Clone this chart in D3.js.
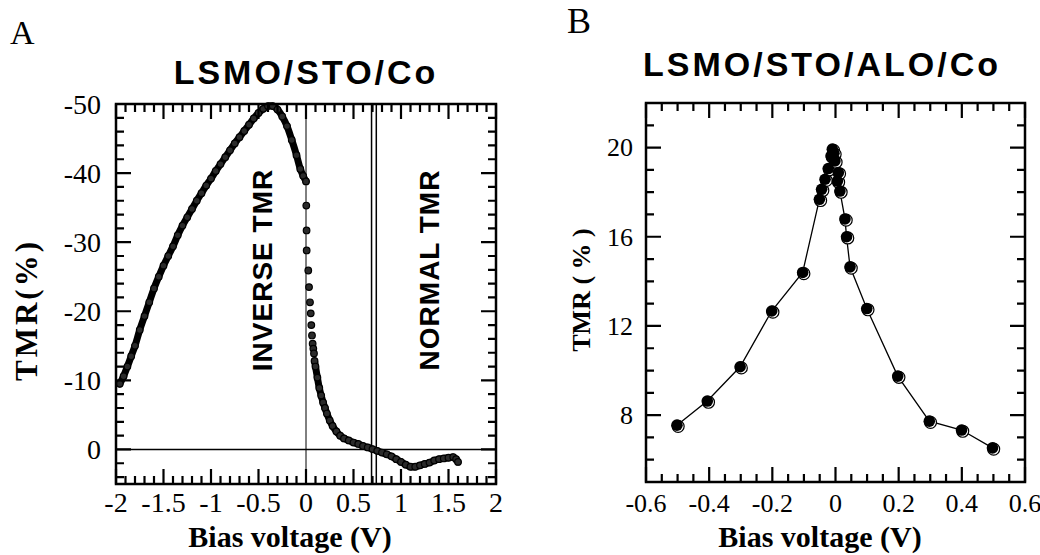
<!DOCTYPE html>
<html>
<head>
<meta charset="utf-8">
<script src="https://cdn.jsdelivr.net/npm/d3@7"></script>
<style>
  body { margin: 0; background: #fff; }
  svg { display: block; }
</style>
</head>
<body>
<svg id="chart" width="1040" height="555"></svg>
<script>
// ---- panel A : LSMO/STO/Co ----
// dense sweep from -2 V up to the peak and back to 0
const aLeftV = [-1.96, -1.92, -1.88, -1.84, -1.8, -1.75, -1.7, -1.65, -1.6, -1.55, -1.5, -1.45,
  -1.4, -1.35, -1.3, -1.25, -1.2, -1.15, -1.1, -1.05, -1.0, -0.95, -0.9, -0.85, -0.8, -0.75,
  -0.7, -0.65, -0.6, -0.55, -0.5, -0.45, -0.4, -0.35, -0.3, -0.25, -0.2, -0.15, -0.1, -0.06,
  -0.03, 0.0];
const aLeftTMR = [-9.5, -10.6, -12, -13.5, -15, -17.3, -19.3, -21.3, -23.3, -25, -26.6, -28,
  -29.4, -31, -32.4, -33.6, -34.8, -36, -37.1, -38.2, -39.2, -40.3, -41.3, -42.3, -43.3, -44.3,
  -45.2, -46.1, -47, -47.9, -48.7, -49.3, -49.7, -49.7, -49.2, -48.2, -46.8, -44.8, -42.6, -40.6,
  -39.6, -38.8];
// sparse points just above 0 V
const aDropV = [0.003, 0.006, 0.007, 0.024, 0.032, 0.042, 0.05, 0.056, 0.063, 0.07, 0.077, 0.084];
const aDropTMR = [-35.3, -31.7, -28.8, -25.9, -23.5, -21.3, -19.7, -18, -16.5, -15.3, -14.6, -13.9];
// dense tail
const aTailV = [0.09, 0.1, 0.12, 0.14, 0.16, 0.18, 0.2, 0.22, 0.25, 0.28, 0.32, 0.36, 0.4, 0.45,
  0.5, 0.55, 0.6, 0.65, 0.7, 0.75, 0.8, 0.85, 0.9, 0.95, 1.0, 1.05, 1.1, 1.15, 1.2, 1.25, 1.3,
  1.35, 1.4, 1.45, 1.5, 1.55, 1.58, 1.6];
const aTailTMR = [-12.8, -12, -10.4, -8.9, -7.8, -6.8, -6, -5.2, -4.2, -3.4, -2.6, -2.0, -1.6,
  -1.3, -1.0, -0.8, -0.5, -0.3, -0.05, 0.2, 0.45, 0.7, 1.0, 1.4, 1.8, 2.2, 2.5, 2.5, 2.3, 2.1,
  1.9, 1.6, 1.4, 1.3, 1.2, 1.1, 1.4, 1.8];
const aBoundaryV = [0.69, 0.74];
const aXTicks = [-2, -1.5, -1, -0.5, 0, 0.5, 1, 1.5, 2];
const aXTickLabels = ["-2", "-1.5", "-1", "-0.5", "0", "0.5", "1", "1.5", "2"];
const aYTicks = [-50, -40, -30, -20, -10, 0];
const aYTickLabels = ["-50", "-40", "-30", "-20", "-10", "0"];

// ---- panel B : LSMO/STO/ALO/Co ----
const bV = [-0.502, -0.406, -0.302, -0.202, -0.104, -0.051, -0.044, -0.033, -0.023, -0.014,
  -0.010, -0.005, -0.002, 0.006, 0.009, 0.014, 0.030, 0.035, 0.046, 0.099, 0.197, 0.297,
  0.399, 0.497];
const bTMR = [7.55, 8.63, 10.17, 12.67, 14.4, 17.68, 18.13, 18.58, 19.06, 19.63, 19.93, 19.75,
  19.4, 18.5, 18.88, 18.05, 16.8, 16.0, 14.65, 12.78, 9.75, 7.73, 7.33, 6.53];
const bXTicks = [-0.6, -0.4, -0.2, 0, 0.2, 0.4, 0.6];
const bXTickLabels = ["-0.6", "-0.4", "-0.2", "0", "0.2", "0.4", "0.6"];
const bYTicks = [8, 12, 16, 20];
const bYTickLabels = ["8", "12", "16", "20"];

const serif = "'Liberation Serif', 'Times New Roman', serif";
const sans = "'Liberation Sans', Arial, Helvetica, sans-serif";

const svg = d3.select("#chart");

const xA = d3.scaleLinear().domain([-2, 2]).range([116, 496]);
const yA = d3.scaleLinear().domain([5, -50]).range([484, 104]);
const xB = d3.scaleLinear().domain([-0.6, 0.6]).range([646, 1025]);
const yB = d3.scaleLinear().domain([5, 22]).range([482, 103]);

// four-sided box, ticks pointing inward on every side (one path per panel)
function drawFrame(x, y, xMajor, xMinor, yMajor, yMinor) {
  const [x0, x1] = x.range();
  const [y0, y1] = y.range();
  const p = d3.path();
  [[xMinor, 8], [xMajor, 15]].forEach(([vals, len]) => {
    vals.forEach((v) => {
      p.moveTo(x(v), y0); p.lineTo(x(v), y0 - len);
      p.moveTo(x(v), y1); p.lineTo(x(v), y1 + len);
    });
  });
  [[yMinor, 8], [yMajor, 15]].forEach(([vals, len]) => {
    vals.forEach((v) => {
      p.moveTo(x0, y(v)); p.lineTo(x0 + len, y(v));
      p.moveTo(x1, y(v)); p.lineTo(x1 - len, y(v));
    });
  });
  svg.append("path")
    .attr("d", p.toString())
    .attr("fill", "none")
    .attr("stroke", "#000")
    .attr("stroke-width", 2.2);
  svg.append("rect")
    .attr("x", x0).attr("y", y1)
    .attr("width", x1 - x0).attr("height", y0 - y1)
    .attr("fill", "none").attr("stroke", "#000").attr("stroke-width", 2.5);
}

function tickLabels(x, y, xVals, xLabels, yVals, yLabels, size, yLabelX) {
  svg.append("g").selectAll("text")
    .data(xVals)
    .join("text")
    .attr("x", (d) => x(d))
    .attr("y", 512)
    .attr("text-anchor", "middle")
    .style("font-family", serif)
    .style("font-size", size + "px")
    .text((d, i) => xLabels[i]);
  svg.append("g").selectAll("text")
    .data(yVals)
    .join("text")
    .attr("x", yLabelX)
    .attr("y", (d) => y(d))
    .attr("dy", "0.34em")
    .attr("text-anchor", "end")
    .style("font-family", serif)
    .style("font-size", size + "px")
    .text((d, i) => yLabels[i]);
}

// ---------- panel A ----------
// reference lines
svg.append("line")
  .attr("x1", xA(-2)).attr("x2", xA(2))
  .attr("y1", yA(0)).attr("y2", yA(0))
  .attr("stroke", "#000").attr("stroke-width", 1.6);
svg.append("line")
  .attr("x1", xA(0)).attr("x2", xA(0))
  .attr("y1", yA(5)).attr("y2", yA(-50))
  .attr("stroke", "#000").attr("stroke-width", 1);
svg.selectAll(".boundary")
  .data(aBoundaryV)
  .join("line")
  .attr("class", "boundary")
  .attr("x1", (d) => xA(d)).attr("x2", (d) => xA(d))
  .attr("y1", yA(5)).attr("y2", yA(-50))
  .attr("stroke", "#000").attr("stroke-width", 1.5);

const lineA = d3.line()
  .x((d) => xA(d[0]))
  .y((d) => yA(d[1]))
  .curve(d3.curveCatmullRom);

const aLeft = aLeftV.map((v, i) => [v, aLeftTMR[i]]);
const aDrop = aDropV.map((v, i) => [v, aDropTMR[i]]);
const aTail = aTailV.map((v, i) => [v, aTailTMR[i]]);

[aLeft, aTail].forEach((pts) => {
  svg.append("path")
    .datum(pts)
    .attr("d", lineA)
    .attr("fill", "none")
    .attr("stroke", "#000")
    .attr("stroke-width", 7)
    .attr("stroke-linecap", "round");
});

svg.append("g").selectAll("circle")
  .data(aLeft.concat(aDrop, aTail))
  .join("circle")
  .attr("cx", (d) => xA(d[0]))
  .attr("cy", (d) => yA(d[1]))
  .attr("r", 3.3)
  .attr("fill", "#2a2a2a")
  .attr("stroke", "#000")
  .attr("stroke-width", 1.2);

drawFrame(xA, yA, aXTicks, xA.ticks(40), aYTicks, yA.ticks(27));
tickLabels(xA, yA, aXTicks, aXTickLabels, aYTicks, aYTickLabels, 28, 101);

// region labels
svg.append("text")
  .attr("transform", "translate(272,270) rotate(-90)")
  .attr("text-anchor", "middle")
  .style("font-family", sans).style("font-weight", "bold")
  .style("font-size", "28px").style("letter-spacing", "1px")
  .text("INVERSE TMR");
svg.append("text")
  .attr("transform", "translate(439,270) rotate(-90)")
  .attr("text-anchor", "middle")
  .style("font-family", sans).style("font-weight", "bold")
  .style("font-size", "28px").style("letter-spacing", "1px")
  .text("NORMAL TMR");

// ---------- panel B ----------
const lineB = d3.line()
  .x((d, i) => xB(bV[i]))
  .y((d, i) => yB(bTMR[i]));

svg.append("path")
  .datum(bV)
  .attr("d", lineB)
  .attr("fill", "none")
  .attr("stroke", "#000")
  .attr("stroke-width", 1.3);

const bPts = bV.map((v, i) => [v, bTMR[i]]);
svg.append("g").selectAll("circle")
  .data(bPts)
  .join("circle")
  .attr("cx", (d) => xB(d[0]) + 1.2)
  .attr("cy", (d) => yB(d[1]) + 1.2)
  .attr("r", 6)
  .attr("fill", "#fff")
  .attr("stroke", "#000")
  .attr("stroke-width", 1.2);
svg.append("g").selectAll("circle")
  .data(bPts)
  .join("circle")
  .attr("cx", (d) => xB(d[0]))
  .attr("cy", (d) => yB(d[1]))
  .attr("r", 5.8)
  .attr("fill", "#000");

drawFrame(xB, yB, bXTicks, xB.ticks(24), bYTicks, yB.ticks(17));
tickLabels(xB, yB, bXTicks, bXTickLabels, bYTicks, bYTickLabels, 26, 633);

// ---------- titles and axis names ----------
function title(x, y, txt) {
  svg.append("text")
    .attr("x", x).attr("y", y)
    .attr("text-anchor", "middle")
    .style("font-family", sans).style("font-weight", "bold")
    .style("font-size", "34px").style("letter-spacing", "3px")
    .text(txt);
}
title(306, 84, "LSMO/STO/Co");
title(822, 76, "LSMO/STO/ALO/Co");

svg.append("text").attr("x", 10).attr("y", 44)
  .style("font-family", serif).style("font-size", "34px").text("A");
svg.append("text").attr("x", 567).attr("y", 33)
  .style("font-family", serif).style("font-size", "36px").text("B");

function xName(cx) {
  svg.append("text")
    .attr("x", cx).attr("y", 547)
    .attr("text-anchor", "middle")
    .style("font-family", serif).style("font-weight", "bold")
    .style("font-size", "30px")
    .text("Bias voltage (V)");
}
xName(290);
xName(820);

function yName(bx, cy, txt, size, spacing) {
  svg.append("text")
    .attr("transform", `translate(${bx},${cy}) rotate(-90)`)
    .attr("text-anchor", "middle")
    .style("font-family", serif).style("font-weight", "bold")
    .style("font-size", size + "px")
    .style("letter-spacing", spacing + "px")
    .text(txt);
}
yName(37, 310, "TMR(%)", 31, 3);
yName(590, 290, "TMR ( % )", 26, 0);
</script>
</body>
</html>
